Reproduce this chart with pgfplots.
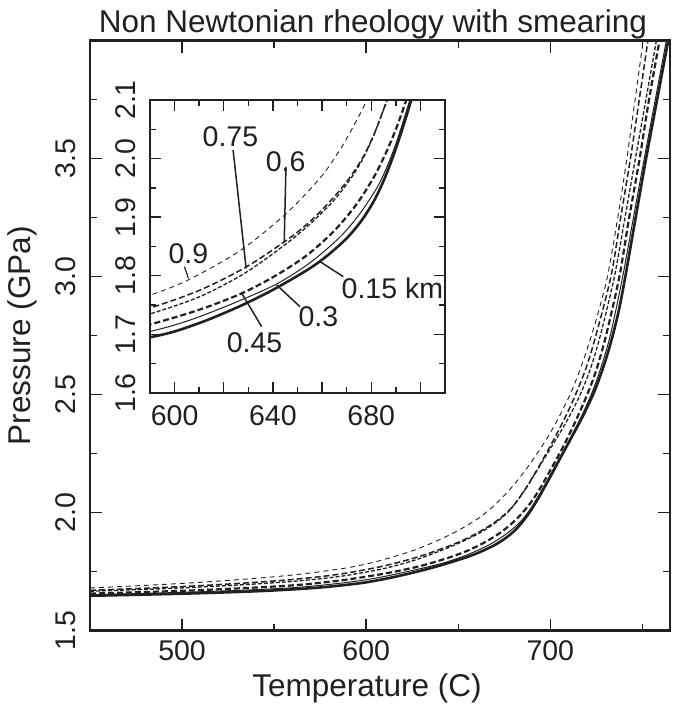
\documentclass[border=0pt]{standalone}
\usepackage{fontspec}
\setmainfont{Liberation Sans}
\usepackage{pgfplots}
\pgfplotsset{compat=1.18}
\usepackage{pgfplotstable}
\definecolor{ink}{RGB}{35,31,32}

% 0.15 km
\pgfplotstableread{
T P
450 1.648
480 1.653
510 1.659
540 1.667
560 1.675
575 1.683
590 1.695
600 1.705
613 1.724
627 1.749
640 1.776
654 1.810
662 1.834
670 1.864
676 1.894
681 1.927
685 1.962
689 2.005
693 2.055
697 2.110
701 2.167
706 2.240
712 2.326
718 2.414
724 2.515
729 2.622
733 2.725
737 2.850
740.5 2.990
746 3.235
752 3.500
758 3.750
764 4.000
}\cA
% 0.3
\pgfplotstableread{
T P
450 1.652
480 1.658
510 1.665
540 1.674
560 1.682
575 1.692
590 1.705
600 1.716
610 1.730
625 1.755
641.5 1.786
655 1.822
667 1.865
675 1.904
682 1.948
686 1.982
690 2.025
694 2.077
698 2.132
702.5 2.196
710 2.303
716.7 2.405
722.7 2.510
727.5 2.615
732.7 2.755
739.3 3.000
744.9 3.240
751 3.500
757 3.750
763 4.000
}\cB
% 0.45
\pgfplotstableread{
T P
450 1.657
480 1.664
510 1.672
540 1.683
560 1.692
575 1.703
590 1.717
610 1.742
627.3 1.770
641 1.800
653.8 1.835
665 1.877
674 1.922
681 1.968
686 2.010
690 2.050
694 2.097
698 2.152
703 2.222
708 2.295
714 2.393
720 2.500
725 2.605
730.4 2.755
737.5 3.000
742.6 3.240
748.5 3.500
753.6 3.750
759.3 4.000
}\cC
% 0.6
\pgfplotstableread{
T P
450 1.667
480 1.675
510 1.685
540 1.698
560 1.709
575 1.720
590 1.735
610 1.764
628 1.803
644.6 1.852
655 1.888
664 1.925
671 1.962
676 1.995
680 2.030
684 2.072
688 2.118
694 2.195
702.5 2.303
709.8 2.400
716.4 2.503
722 2.615
727.3 2.755
734.8 3.000
740.3 3.240
746.2 3.500
751.9 3.750
757.6 4.000
}\cD
% 0.75
\pgfplotstableread{
T P
450 1.671
480 1.680
510 1.691
540 1.705
560 1.717
575 1.729
590 1.745
610 1.775
629.1 1.815
647 1.865
657 1.900
666 1.940
672 1.972
677 2.005
681 2.040
684.5 2.078
688 2.120
692.5 2.178
700.5 2.290
707.5 2.395
713.7 2.500
719.5 2.615
724.9 2.755
732.9 3.000
738 3.240
743.5 3.500
748.3 3.750
753 4.000
}\cE
% 0.9
\pgfplotstableread{
T P
450 1.681
480 1.692
510 1.705
540 1.722
560 1.736
575 1.750
590 1.767
605.6 1.793
626.7 1.843
644.3 1.902
655 1.947
662 1.982
669 2.027
676.5 2.085
683 2.145
690 2.218
697.8 2.310
704 2.395
710.4 2.495
716 2.603
721.3 2.725
726.5 2.862
731 3.000
736 3.220
741 3.470
745.7 3.730
750.4 4.000
}\cF

\pgfplotsset{
  s15/.style={ink, line width=2.6pt, smooth},
  s30/.style={ink, line width=1pt, smooth},
  s45/.style={ink, line width=2.2pt, dash pattern=on 6pt off 3pt, smooth},
  s60/.style={ink, line width=1.3pt, dash pattern=on 4pt off 2pt, smooth},
  s75/.style={ink, line width=1.5pt, dash pattern=on 6pt off 3pt, smooth},
  s90/.style={ink, line width=0.9pt, dash pattern=on 5pt off 4pt, smooth},
  frame/.style={
    line width=2.5pt,
    axis line style={line width=2.5pt, ink},
    tick align=inside,
    tick style={line width=1.4pt, ink},
    tick label style={font=\fontsize{28.5}{30}\selectfont, inner sep=0pt, text=ink},
    /pgf/number format/assume math mode=true,
    yticklabel style={rotate=90, anchor=south, /pgf/number format/.cd, fixed, fixed zerofill, precision=1},
    xticklabel style={anchor=north},
  },
}
\tikzset{lbl/.style={font=\fontsize{28.5}{30}\selectfont, text=ink, inner sep=0pt}}

\begin{document}
\begin{tikzpicture}[x=1pt,y=1pt]
\useasboundingbox (0,0) rectangle (672,704);
\begin{axis}[
  frame,
  at={(90pt,73.3pt)}, anchor=south west, scale only axis,
  width=580pt, height=590pt,
  xmin=450, xmax=765, ymin=1.5, ymax=4,
  xtick={500,600,700}, minor xtick={550,650,750},
  ytick={1.5,2,2.5,3,3.5}, minor ytick={1.75,2.25,2.75,3.25,3.75},
  major tick length=12pt, minor tick length=7pt,
  xticklabel shift=9pt, yticklabel shift=13pt,
]
\addplot[s90] table {\cF};
\addplot[s75] table {\cE};
\addplot[s60] table {\cD};
\addplot[s45] table {\cC};
\addplot[s30] table {\cB};
\addplot[s15] table {\cA};
\end{axis}

\begin{axis}[
  frame,
  at={(150pt,311pt)}, anchor=south west, scale only axis,
  width=295pt, height=293pt,
  xmin=590, xmax=710, ymin=1.6, ymax=2.1,
  xtick={600,620,640,660,680,700}, xticklabels={600,,640,,680,},
  minor xtick={610,630,650,670,690},
  ytick={1.6,1.7,1.8,1.9,2.0,2.1}, minor ytick={1.65,1.75,1.85,1.95,2.05},
  major tick length=11pt, minor tick length=6pt,
  axis background/.style={fill=white},
  xticklabel shift=11pt, yticklabel shift=13pt,
]
\addplot[s90] table {\cF};
\addplot[s75] table {\cE};
\addplot[s60] table {\cD};
\addplot[s45] table {\cC};
\addplot[s30] table {\cB};
\addplot[s15] table {\cA};
\draw[ink, line width=1.5pt] (axis cs:623.8,2.0147) -- (axis cs:629.1,1.8128);
\draw[ink, line width=1.5pt] (axis cs:645.3,1.9857) -- (axis cs:644.6,1.8583);
\draw[ink, line width=1.2pt] (axis cs:604.0,1.8156) -- (axis cs:605.6,1.7958);
\draw[ink, line width=1.5pt] (axis cs:659.2,1.8241) -- (axis cs:668.6,1.7985);
\draw[ink, line width=1.5pt] (axis cs:641.5,1.7844) -- (axis cs:651.0,1.7474);
\draw[ink, line width=1.5pt] (axis cs:627.3,1.7702) -- (axis cs:635.4,1.7133);
\node[lbl] at (axis cs:622.7,2.0369) {0.75};
\node[lbl] at (axis cs:645.2,1.9947) {0.6};
\node[lbl] at (axis cs:605.6,1.8385) {0.9};
\node[lbl] at (axis cs:688.6,1.7788) {0.15 km};
\node[lbl] at (axis cs:658.5,1.7303) {0.3};
\node[lbl] at (axis cs:632.5,1.6854) {0.45};
\end{axis}

\node[anchor=base, font=\fontsize{31.5}{33}\selectfont, text=ink, inner sep=0pt] at (373,671) {Non Newtonian rheology with smearing};
\node[anchor=base, font=\fontsize{31.5}{33}\selectfont, text=ink, inner sep=0pt] at (367,7.3) {Temperature (C)};
\node[rotate=90, anchor=base, font=\fontsize{31.5}{33}\selectfont, text=ink, inner sep=0pt] at (30,368.3) {Pressure (GPa)};
\end{tikzpicture}
\end{document}
